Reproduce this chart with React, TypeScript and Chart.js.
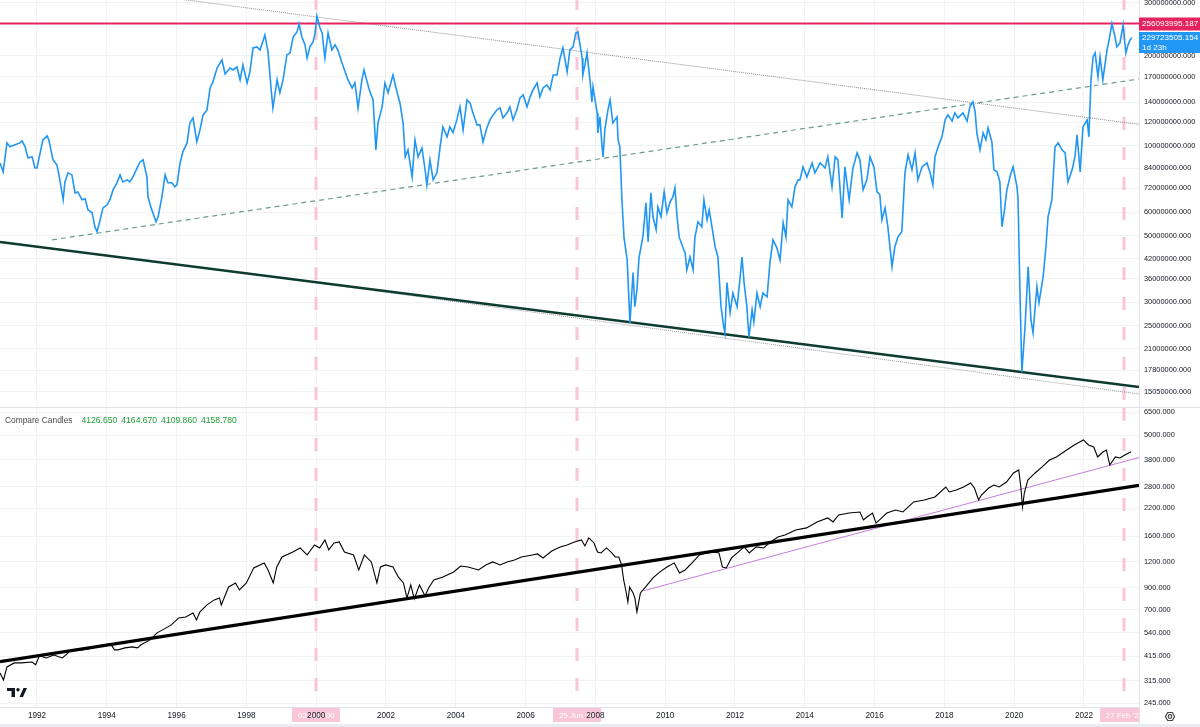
import React, { useEffect, useRef } from "react";
import { Chart, registerables } from "chart.js";

Chart.register(...registerables);

// ---------- time range & axis ticks ----------
const X_MIN = 1990.94;
const X_MAX = 2023.576;
const YEAR_TICKS = [1992, 1994, 1996, 1998, 2000, 2002, 2004, 2006, 2008, 2010, 2012, 2014, 2016, 2018, 2020, 2022];

// ---------- upper pane (values in millions) ----------
const TOP_UNIT = 1e6;
const TOP_MIN = 13.4e6;
const TOP_MAX = 306.9e6;
const TOP_TICKS = [300e6, 200e6, 170e6, 140e6, 120e6, 100e6, 84e6, 72e6, 60e6, 50e6, 42e6, 36e6, 30e6, 25e6, 21e6, 17.8e6, 15.05e6];

const TOP_DATES = [
  1990.94, 1991.03, 1991.14, 1991.23, 1991.37, 1991.51, 1991.57, 1991.66, 1991.74, 1991.86,
  1991.94, 1992.0, 1992.09, 1992.17, 1992.29, 1992.34, 1992.46, 1992.57, 1992.63, 1992.75,
  1992.8, 1992.89, 1993.0, 1993.09, 1993.17, 1993.29, 1993.38, 1993.46, 1993.58, 1993.66,
  1993.72, 1993.81, 1993.89, 1994.01, 1994.09, 1994.18, 1994.29, 1994.38, 1994.46, 1994.58,
  1994.66, 1994.75, 1994.87, 1994.95, 1995.04, 1995.15, 1995.18, 1995.27, 1995.32, 1995.41,
  1995.47, 1995.58, 1995.67, 1995.75, 1995.87, 1995.95, 1996.01, 1996.1, 1996.18, 1996.3,
  1996.38, 1996.47, 1996.58, 1996.67, 1996.76, 1996.87, 1996.96, 1997.04, 1997.16, 1997.3,
  1997.39, 1997.53, 1997.62, 1997.73, 1997.82, 1997.9, 1998.02, 1998.1, 1998.19, 1998.3,
  1998.39, 1998.53, 1998.62, 1998.71, 1998.76, 1998.88, 1998.96, 1999.05, 1999.16, 1999.25,
  1999.34, 1999.45, 1999.51, 1999.59, 1999.68, 1999.74, 1999.82, 1999.91, 1999.97, 2000.02,
  2000.11, 2000.17, 2000.25, 2000.34, 2000.45, 2000.54, 2000.62, 2000.74, 2000.83, 2000.91,
  2001.03, 2001.11, 2001.2, 2001.31, 2001.37, 2001.46, 2001.54, 2001.63, 2001.71, 2001.77,
  2001.89, 2001.97, 2002.06, 2002.2, 2002.32, 2002.4, 2002.49, 2002.55, 2002.63, 2002.75,
  2002.83, 2002.92, 2003.03, 2003.12, 2003.17, 2003.26, 2003.35, 2003.46, 2003.55, 2003.63,
  2003.75, 2003.83, 2003.92, 2004.03, 2004.12, 2004.21, 2004.32, 2004.41, 2004.49, 2004.61,
  2004.69, 2004.78, 2004.89, 2004.98, 2005.07, 2005.18, 2005.27, 2005.35, 2005.47, 2005.55,
  2005.64, 2005.75, 2005.84, 2005.93, 2006.04, 2006.13, 2006.21, 2006.33, 2006.41, 2006.5,
  2006.61, 2006.7, 2006.79, 2006.9, 2006.99, 2007.07, 2007.19, 2007.27, 2007.36, 2007.44,
  2007.5, 2007.62, 2007.64, 2007.7, 2007.76, 2007.85, 2007.9, 2007.93, 2008.05, 2008.07,
  2008.13, 2008.19, 2008.22, 2008.27, 2008.36, 2008.42, 2008.5, 2008.62, 2008.65, 2008.7,
  2008.76, 2008.82, 2008.91, 2008.99, 2009.08, 2009.13, 2009.19, 2009.25, 2009.36, 2009.45,
  2009.51, 2009.59, 2009.65, 2009.74, 2009.79, 2009.88, 2009.97, 2010.05, 2010.14, 2010.22,
  2010.28, 2010.34, 2010.4, 2010.51, 2010.57, 2010.62, 2010.71, 2010.8, 2010.85, 2010.94,
  2011.05, 2011.11, 2011.2, 2011.26, 2011.34, 2011.43, 2011.51, 2011.6, 2011.66, 2011.71,
  2011.77, 2011.86, 2011.94, 2012.06, 2012.14, 2012.2, 2012.26, 2012.34, 2012.4, 2012.49,
  2012.54, 2012.63, 2012.72, 2012.8, 2012.92, 2013.0, 2013.09, 2013.2, 2013.29, 2013.38,
  2013.46, 2013.52, 2013.63, 2013.72, 2013.81, 2013.86, 2013.95, 2014.06, 2014.21, 2014.29,
  2014.44, 2014.58, 2014.66, 2014.78, 2014.87, 2014.95, 2015.07, 2015.15, 2015.27, 2015.38,
  2015.5, 2015.58, 2015.67, 2015.78, 2015.87, 2015.98, 2016.07, 2016.15, 2016.21, 2016.3,
  2016.38, 2016.5, 2016.58, 2016.67, 2016.78, 2016.87, 2016.96, 2017.07, 2017.16, 2017.24,
  2017.36, 2017.5, 2017.59, 2017.67, 2017.73, 2017.82, 2017.93, 2018.02, 2018.1, 2018.22,
  2018.3, 2018.39, 2018.53, 2018.65, 2018.73, 2018.82, 2018.88, 2018.93, 2019.02, 2019.11,
  2019.19, 2019.25, 2019.36, 2019.42, 2019.51, 2019.59, 2019.65, 2019.71, 2019.79, 2019.91,
  2019.97, 2020.08, 2020.11, 2020.17, 2020.22, 2020.31, 2020.4, 2020.48, 2020.54, 2020.65,
  2020.71, 2020.83, 2020.91, 2020.97, 2021.08, 2021.17, 2021.26, 2021.37, 2021.46, 2021.54,
  2021.66, 2021.74, 2021.8, 2021.89, 2021.97, 2022.09, 2022.14, 2022.2, 2022.26, 2022.32,
  2022.4, 2022.46, 2022.54, 2022.66, 2022.72, 2022.8, 2022.89, 2022.94, 2023.03, 2023.12,
  2023.2, 2023.26, 2023.32, 2023.37,
];

const TOP_VALUES_M = [
  87.6, 81.8, 102.2, 99.2, 100.7, 102.2, 103.8, 99.2, 91.1, 91.8,
  84.3, 84.3, 94.7, 104.6, 107.9, 104.6, 89.7, 86.3, 79.9, 66.0,
  75.7, 81.2, 79.9, 69.6, 70.1, 66.0, 66.5, 61.1, 59.7, 53.6,
  51.6, 56.6, 62.0, 63.5, 66.0, 71.2, 75.2, 79.9, 75.7, 76.9,
  75.7, 78.7, 84.3, 88.3, 89.7, 78.7, 67.5, 62.0, 59.7, 55.7,
  57.9, 67.5, 79.9, 75.2, 75.2, 72.9, 74.0, 87.6, 95.4, 102.2,
  119.2, 123.9, 103.0, 113.0, 126.8, 131.8, 156.0, 163.4, 181.9, 193.5,
  173.7, 181.9, 179.2, 183.3, 165.9, 186.2, 162.1, 176.4, 212.2, 213.9,
  209.0, 234.5, 205.8, 153.6, 133.8, 165.9, 150.3, 165.9, 201.1, 204.2,
  230.9, 240.0, 255.2, 230.9, 217.2, 196.5, 213.9, 222.3, 238.2, 271.4,
  247.5, 238.2, 196.5, 238.2, 209.0, 217.2, 209.0, 189.1, 176.4, 165.9,
  156.0, 162.1, 133.8, 165.9, 179.2, 163.4, 151.4, 142.3, 96.9, 119.2,
  134.9, 162.1, 150.3, 172.4, 150.3, 139.0, 119.2, 91.8, 96.9, 78.7,
  104.6, 91.8, 98.4, 83.1, 74.0, 89.7, 76.9, 81.2, 99.2, 115.6,
  107.1, 115.6, 110.7, 122.0, 134.9, 113.0, 142.3, 139.0, 128.8, 117.4,
  117.4, 103.0, 114.7, 122.0, 126.8, 131.8, 133.8, 123.9, 128.8, 134.9,
  122.0, 131.8, 144.6, 147.9, 134.9, 145.7, 153.6, 162.1, 145.7, 156.0,
  159.7, 153.6, 172.4, 172.4, 196.5, 212.2, 176.4, 209.0, 213.9, 238.2,
  240.0, 196.5, 172.4, 186.2, 204.2, 163.4, 140.1, 157.2, 128.8, 110.4,
  124.9, 99.2, 91.8, 113.0, 131.8, 142.3, 119.2, 124.9, 104.6, 99.2,
  66.0, 49.3, 41.6, 25.6, 37.7, 29.0, 33.0, 42.2, 49.6, 64.5,
  47.8, 69.6, 57.9, 52.4, 62.5, 57.9, 70.1, 59.7, 65.0, 67.5,
  72.3, 57.9, 49.6, 45.6, 43.9, 38.5, 42.5, 38.5, 49.3, 55.7,
  53.6, 66.0, 56.6, 61.1, 53.6, 46.0, 42.5, 29.0, 25.6, 23.7,
  34.9, 27.7, 32.2, 29.0, 35.7, 42.5, 34.9, 29.0, 22.9, 28.3,
  25.8, 32.2, 29.0, 32.2, 31.3, 40.6, 48.5, 45.6, 41.6, 55.3,
  49.6, 66.0, 62.5, 72.9, 76.9, 76.9, 85.0, 78.7, 87.6, 81.2,
  87.6, 84.3, 91.8, 72.9, 91.8, 89.7, 57.4, 85.0, 66.0, 84.3,
  94.7, 89.7, 71.2, 76.9, 91.8, 85.0, 70.1, 68.6, 56.6, 62.0,
  53.6, 39.4, 46.0, 49.6, 51.6, 81.2, 93.2, 83.1, 94.7, 76.9,
  85.0, 87.6, 81.2, 74.0, 91.8, 99.2, 107.1, 122.0, 126.8, 120.9,
  128.8, 123.9, 128.8, 120.9, 134.9, 140.1, 129.8, 110.4, 96.9, 110.4,
  104.6, 114.7, 103.0, 83.1, 81.8, 75.7, 53.6, 59.7, 71.2, 81.2,
  85.0, 72.9, 66.0, 30.6, 17.5, 24.8, 39.4, 26.2, 23.7, 33.8,
  29.9, 36.5, 46.0, 57.9, 66.0, 99.2, 102.2, 96.9, 94.7, 75.7,
  83.1, 91.8, 108.7, 81.8, 115.6, 122.0, 107.1, 165.9, 198.0, 204.2,
  169.8, 198.0, 165.9, 209.0, 225.7, 256.1, 230.9, 213.9, 220.5, 253.3,
  204.2, 217.2, 225.7, 229.723505154,
];

const RESISTANCE_LEVEL = 256093995.187;
const COUNTDOWN = "1d 23h";

// drawn trend lines of the upper pane (millions)
const UPPER_DOTTED_DATES = [1995.24, 2023.576];
const UPPER_DOTTED_M = [318.4, 117.9];
const RISING_DASHED_DATES = [1992.43, 2023.576];
const RISING_DASHED_M = [48.5, 167.1];
const SUPPORT_DATES = [1990.94, 2023.576];
const SUPPORT_M = [47.7, 15.63];
const LOWER_DOTTED_DATES = [1998.1, 2023.576];
const LOWER_DOTTED_M = [37.3, 14.81];

// ---------- lower pane (compare symbol) ----------
const SPX_MIN = 234.3;
const SPX_MAX = 6801;
const SPX_TICKS = [6500, 5000, 3800, 2800, 2200, 1600, 1200, 900, 700, 540, 415, 315, 245];

const SPX_DATES = [
  1990.94, 1991.04, 1991.14, 1991.35, 1991.55, 1991.86, 1991.96, 1992.07, 1992.27, 1992.48,
  1992.73, 1992.99, 1993.29, 1993.6, 1993.91, 1994.11, 1994.22, 1994.32, 1994.52, 1994.73,
  1994.88, 1994.98, 1995.24, 1995.44, 1995.65, 1995.85, 1996.06, 1996.26, 1996.47, 1996.57,
  1996.67, 1996.87, 1997.08, 1997.23, 1997.28, 1997.49, 1997.69, 1997.8, 1998.0, 1998.21,
  1998.51, 1998.62, 1998.77, 1998.87, 1999.02, 1999.33, 1999.54, 1999.74, 1999.95, 2000.1,
  2000.25, 2000.36, 2000.51, 2000.66, 2000.81, 2001.07, 2001.22, 2001.38, 2001.58, 2001.74,
  2001.84, 2001.99, 2002.2, 2002.35, 2002.5, 2002.6, 2002.71, 2002.81, 2002.96, 2003.12,
  2003.22, 2003.37, 2003.63, 2003.94, 2004.14, 2004.35, 2004.65, 2004.86, 2005.06, 2005.27,
  2005.47, 2005.68, 2005.88, 2006.19, 2006.34, 2006.5, 2006.75, 2006.99, 2007.19, 2007.4,
  2007.6, 2007.7, 2007.81, 2007.96, 2008.06, 2008.16, 2008.32, 2008.47, 2008.57, 2008.67,
  2008.75, 2008.81, 2008.88, 2008.93, 2008.98, 2009.08, 2009.13, 2009.19, 2009.29, 2009.44,
  2009.65, 2009.85, 2010.05, 2010.26, 2010.41, 2010.57, 2010.77, 2010.98, 2011.18, 2011.39,
  2011.54, 2011.64, 2011.75, 2011.9, 2012.1, 2012.26, 2012.41, 2012.61, 2012.82, 2013.02,
  2013.23, 2013.43, 2013.74, 2014.05, 2014.35, 2014.66, 2014.81, 2014.97, 2015.27, 2015.58,
  2015.68, 2015.78, 2015.94, 2016.04, 2016.14, 2016.35, 2016.6, 2016.81, 2017.12, 2017.42,
  2017.73, 2018.04, 2018.14, 2018.34, 2018.55, 2018.75, 2018.86, 2018.98, 2019.06, 2019.27,
  2019.42, 2019.57, 2019.78, 2019.98, 2020.13, 2020.19, 2020.24, 2020.29, 2020.39, 2020.6,
  2020.8, 2021.01, 2021.21, 2021.42, 2021.72, 2021.98, 2022.13, 2022.28, 2022.39, 2022.54,
  2022.64, 2022.74, 2022.9, 2023.03, 2023.17, 2023.35,
];

const SPX_VALUES = [
  344, 318, 368, 385, 385, 389, 377, 417, 407, 421,
  407, 446, 446, 456, 472, 477, 446, 446, 456, 461,
  456, 472, 499, 540, 565, 591, 639, 646, 676, 625,
  684, 740, 783, 801, 740, 906, 948, 876, 948, 1123,
  1188, 1097, 948, 1135, 1270, 1344, 1406, 1299, 1454, 1406,
  1538, 1375, 1487, 1504, 1344, 1299, 1097, 1299, 1201, 948,
  1135, 1161, 1135, 1014, 948, 801, 927, 792, 927, 819,
  896, 980, 1014, 1073, 1147, 1135, 1097, 1161, 1201, 1161,
  1201, 1228, 1270, 1299, 1314, 1256, 1359, 1422, 1454, 1504,
  1538, 1438, 1573, 1487, 1344, 1329, 1406, 1329, 1270, 1270,
  1161, 980, 856, 765, 906, 847, 801, 684, 847, 906,
  1003, 1073, 1135, 1188, 1061, 1097, 1188, 1299, 1329, 1344,
  1329, 1135, 1122, 1256, 1344, 1422, 1329, 1422, 1406, 1504,
  1591, 1627, 1722, 1762, 1884, 1971, 1884, 2037, 2084, 2108,
  1927, 1993, 2084, 1863, 1927, 2084, 2156, 2108, 2360, 2414,
  2497, 2793, 2641, 2701, 2793, 2922, 2761, 2414, 2553, 2761,
  2857, 2793, 2955, 3271, 3384, 2793, 2230, 2611, 3022, 3271,
  3502, 3786, 3917, 4143, 4483, 4744, 4483, 4383, 3917, 4143,
  4237, 3577, 3917, 3873, 4005, 4158.78,
];

const COMPARE_TITLE = "Compare Candles";
const COMPARE_OHLC = ["4126.650", "4164.670", "4109.860", "4158.780"];

const SPX_SUPPORT_DATES = [1990.94, 2023.576];
const SPX_SUPPORT = [390.7, 2844];
const SPX_CHANNEL_DATES = [2009.39, 2023.576];
const SPX_CHANNEL = [869, 3894];

// ---------- vertical date markers ----------
const MARK_DATES = ["2000-01-03", "2007-06-25", "2023-02-27"];
const MARK_LABELS = ["03 Jan '00", "25 Jun '07", "27 Feb '23"];

// ---------- style ----------
const FONT = "'Liberation Sans', Arial, sans-serif";
const TEXT = "#131722";
const GRID = "#f1f2f5";
const AXIS_LINE = "#e0e3eb";
const PINK = "#f8c6d6";
const BLUE = "#2196f3";
const RED = "#e3245e";
const AXIS_W = 61;

function toYear(iso: string): number {
  const d = new Date(iso + "T00:00:00Z");
  const y = d.getUTCFullYear();
  const s = Date.UTC(y, 0, 1);
  const e = Date.UTC(y + 1, 0, 1);
  return y + (d.getTime() - s) / (e - s);
}

function pts(xs: number[], ys: number[], k = 1) {
  return xs.map((x, i) => ({ x, y: ys[i] * k }));
}

function lineDs(data: any[], color: string, width: number, dash: number[] = []) {
  return {
    data,
    borderColor: color,
    backgroundColor: color,
    borderWidth: width,
    borderDash: dash,
    pointRadius: 0,
    pointHoverRadius: 0,
    tension: 0,
    fill: false,
    clip: 0,
  };
}

function drawMarkers(chart: any, offset: number) {
  const { ctx, chartArea } = chart;
  const xs = chart.scales.x;
  ctx.save();
  ctx.strokeStyle = PINK;
  ctx.lineWidth = 3;
  ctx.setLineDash([13, 17]);
  ctx.lineDashOffset = offset;
  MARK_DATES.forEach((d) => {
    const px = Math.round(xs.getPixelForValue(toYear(d)));
    ctx.beginPath();
    ctx.moveTo(px, chartArea.top);
    ctx.lineTo(px, chartArea.bottom);
    ctx.stroke();
  });
  ctx.restore();
}

function xScaleBase(showLabels: boolean) {
  return {
    type: "linear" as const,
    min: X_MIN,
    max: X_MAX,
    bounds: "data" as const,
    position: "bottom" as const,
    afterBuildTicks: (s: any) => {
      s.ticks = YEAR_TICKS.map((v) => ({ value: v }));
    },
    afterFit: (s: any) => {
      s.height = showLabels ? 17 : 0;
      s.paddingLeft = 0;
      s.paddingRight = 0;
    },
    ticks: {
      display: showLabels,
      autoSkip: false,
      maxRotation: 0,
      padding: 4,
      color: TEXT,
      font: { family: FONT, size: 8.2 },
      callback: (v: any) => String(v),
    },
    grid: { color: GRID, drawTicks: false, lineWidth: 1 },
    border: { display: showLabels, color: AXIS_LINE },
  };
}

function yScaleBase(min: number, max: number, ticks: number[]) {
  return {
    type: "logarithmic" as const,
    position: "right" as const,
    min,
    max,
    bounds: "data" as const,
    afterBuildTicks: (s: any) => {
      s.ticks = ticks.map((v) => ({ value: v }));
    },
    afterFit: (s: any) => {
      s.width = AXIS_W;
      s.paddingTop = 0;
      s.paddingBottom = 0;
    },
    ticks: {
      autoSkip: false,
      padding: 5,
      color: TEXT,
      font: { family: FONT, size: 7.4 },
      callback: (v: any) => Number(v).toFixed(3),
    },
    grid: { color: GRID, drawTicks: false, lineWidth: 1 },
    border: { display: true, color: AXIS_LINE },
  };
}

export default function App() {
  const topRef = useRef<HTMLCanvasElement | null>(null);
  const botRef = useRef<HTMLCanvasElement | null>(null);

  useEffect(() => {
    document.body.style.margin = "0";
    if (!topRef.current || !botRef.current) return;

    const lastTop = TOP_VALUES_M[TOP_VALUES_M.length - 1] * TOP_UNIT;

    const topPlugin = {
      id: "topDeco",
      beforeDatasetsDraw(chart: any) {
        drawMarkers(chart, 3);
      },
      afterDraw(chart: any) {
        const { ctx, chartArea } = chart;
        const y = chart.scales.y;
        ctx.save();
        ctx.font = `8.1px ${FONT}`;
        ctx.textAlign = "left";
        ctx.textBaseline = "middle";
        const ry = y.getPixelForValue(RESISTANCE_LEVEL);
        ctx.fillStyle = RED;
        ctx.fillRect(chartArea.right, Math.round(ry) - 6.5, AXIS_W, 13);
        ctx.fillStyle = "#ffffff";
        ctx.fillText(RESISTANCE_LEVEL.toFixed(3), chartArea.right + 3, ry + 0.5);
        const by = y.getPixelForValue(lastTop);
        ctx.fillStyle = BLUE;
        ctx.fillRect(chartArea.right, Math.round(by) - 6, AXIS_W, 21);
        ctx.fillStyle = "#ffffff";
        ctx.fillText(lastTop.toFixed(3), chartArea.right + 3, by);
        ctx.fillText(COUNTDOWN, chartArea.right + 3, by + 10);
        ctx.restore();
      },
    };

    const topChart = new Chart(topRef.current, {
      type: "line",
      data: {
        datasets: [
          lineDs(pts(TOP_DATES, TOP_VALUES_M, TOP_UNIT), BLUE, 1.6),
          lineDs(pts([X_MIN, X_MAX], [RESISTANCE_LEVEL, RESISTANCE_LEVEL]), RED, 2.2),
          lineDs(pts(SUPPORT_DATES, SUPPORT_M, TOP_UNIT), "#0d3b2f", 2.6),
          lineDs(pts(LOWER_DOTTED_DATES, LOWER_DOTTED_M, TOP_UNIT), "#9a9a9a", 1, [1, 1]),
          lineDs(pts(RISING_DASHED_DATES, RISING_DASHED_M, TOP_UNIT), "#6e9b8d", 1.2, [5, 4]),
          lineDs(pts(UPPER_DOTTED_DATES, UPPER_DOTTED_M, TOP_UNIT), "#8c8c8c", 1, [1, 1]),
        ] as any,
      },
      options: {
        responsive: false,
        animation: false,
        devicePixelRatio: 1,
        events: [],
        layout: { padding: 0 },
        plugins: { legend: { display: false }, tooltip: { enabled: false } },
        scales: {
          x: xScaleBase(false),
          y: yScaleBase(TOP_MIN, TOP_MAX, TOP_TICKS),
        } as any,
      },
      plugins: [topPlugin],
    });

    const botPlugin = {
      id: "botDeco",
      beforeDraw(chart: any) {
        const { ctx, chartArea } = chart;
        const xs = chart.scales.x;
        ctx.save();
        ctx.beginPath();
        ctx.rect(0, chartArea.bottom, chartArea.right, 20);
        ctx.clip();
        ctx.font = `8px ${FONT}`;
        ctx.textAlign = "center";
        ctx.textBaseline = "middle";
        MARK_DATES.forEach((d, i) => {
          const px = xs.getPixelForValue(toYear(d));
          ctx.fillStyle = PINK;
          ctx.fillRect(Math.round(px) - 24, chartArea.bottom, 48, 15);
          ctx.fillStyle = "#ffffff";
          ctx.fillText(MARK_LABELS[i], px, chartArea.bottom + 8.5);
        });
        ctx.restore();
      },
      beforeDatasetsDraw(chart: any) {
        drawMarkers(chart, 0);
      },
      afterDraw(chart: any) {
        const { ctx, chartArea, width, height } = chart;
        ctx.save();
        // pane separator
        ctx.fillStyle = AXIS_LINE;
        ctx.fillRect(0, 0, width, 1);
        // divider down through the time axis
        ctx.fillRect(chartArea.right, chartArea.bottom, 1, height - chartArea.bottom);
        // bottom strip
        ctx.fillStyle = "#e9ebf0";
        ctx.fillRect(0, height - 3, width, 3);
        // legend
        ctx.textAlign = "left";
        ctx.textBaseline = "middle";
        ctx.font = `8.4px ${FONT}`;
        ctx.fillStyle = "#4a4a4a";
        ctx.fillText(COMPARE_TITLE, 5, 13.5);
        ctx.fillStyle = "#1f9d34";
        ctx.font = `8.6px ${FONT}`;
        COMPARE_OHLC.forEach((t, i) => ctx.fillText(t, 81.5 + i * 39.8, 13.5));
        // gear icon
        const gx = 1170, gy = 309.5;
        ctx.strokeStyle = "#444";
        ctx.lineWidth = 1.2;
        ctx.beginPath();
        for (let k = 0; k < 6; k++) {
          const a = (Math.PI / 3) * k;
          const px = gx + 4.6 * Math.cos(a);
          const py = gy + 4.6 * Math.sin(a);
          if (k === 0) ctx.moveTo(px, py);
          else ctx.lineTo(px, py);
        }
        ctx.closePath();
        ctx.stroke();
        ctx.beginPath();
        ctx.arc(gx, gy, 1.8, 0, Math.PI * 2);
        ctx.stroke();
        // TradingView mark
        ctx.fillStyle = TEXT;
        const ly = 281;
        ctx.fillRect(7, ly, 8, 3);
        ctx.fillRect(11.5, ly, 3.5, 9);
        ctx.beginPath();
        ctx.arc(18, ly + 1.8, 1.7, 0, Math.PI * 2);
        ctx.fill();
        ctx.beginPath();
        ctx.moveTo(19.5, ly + 9);
        ctx.lineTo(23, ly + 9);
        ctx.lineTo(27, ly);
        ctx.lineTo(23.5, ly);
        ctx.closePath();
        ctx.fill();
        ctx.restore();
      },
    };

    const botChart = new Chart(botRef.current, {
      type: "line",
      data: {
        datasets: [
          lineDs(pts(SPX_DATES, SPX_VALUES), "#000000", 1.1),
          lineDs(pts(SPX_SUPPORT_DATES, SPX_SUPPORT), "#000000", 3.3),
          lineDs(pts(SPX_CHANNEL_DATES, SPX_CHANNEL), "#c77ddc", 1),
        ] as any,
      },
      options: {
        responsive: false,
        animation: false,
        devicePixelRatio: 1,
        events: [],
        layout: { padding: { top: 1, bottom: 3, left: 0, right: 0 } },
        plugins: { legend: { display: false }, tooltip: { enabled: false } },
        scales: {
          x: xScaleBase(true),
          y: yScaleBase(SPX_MIN, SPX_MAX, SPX_TICKS),
        } as any,
      },
      plugins: [botPlugin],
    });

    return () => {
      topChart.destroy();
      botChart.destroy();
    };
  }, []);

  return (
    <div style={{ position: "absolute", left: 0, top: 0, width: 1200, height: 727, background: "#ffffff", overflow: "hidden" }}>
      <canvas ref={topRef} width={1200} height={407} style={{ position: "absolute", left: 0, top: 0, width: 1200, height: 407 }} />
      <canvas ref={botRef} width={1200} height={320} style={{ position: "absolute", left: 0, top: 407, width: 1200, height: 320 }} />
    </div>
  );
}
